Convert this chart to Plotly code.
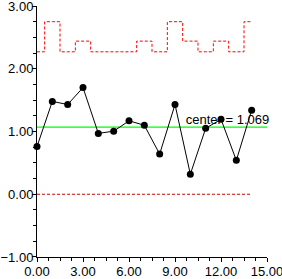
import plotly.graph_objects as go

x_vals = list(range(15))
values = [0.76, 1.48, 1.43, 1.70, 0.97, 1.005, 1.17, 1.10, 0.64, 1.43, 0.32, 1.05, 1.195, 0.54, 1.34]
ucl = [2.27, 2.75, 2.27, 2.44, 2.27, 2.27, 2.27, 2.44, 2.27, 2.75, 2.44, 2.27, 2.44, 2.27, 2.75]
lcl = [0.0] * 15
center = 1.069
center_x = [0, 15]
center_label = "center = 1.069"
label_x = 9.7

font_family = "Liberation Sans, Arial, sans-serif"

fig = go.Figure()
fig.add_trace(go.Scatter(x=center_x, y=[center, center], mode="lines",
                         line=dict(color="#00ff00", width=1.2), hoverinfo="skip"))
fig.add_trace(go.Scatter(x=[label_x], y=[center], mode="text", text=[center_label],
                         textposition="top right", cliponaxis=False,
                         textfont=dict(family=font_family, size=13, color="black")))
fig.add_trace(go.Scatter(x=x_vals, y=ucl, mode="lines", line_shape="hvh",
                         line=dict(color="red", width=1, dash="3px,2px")))
fig.add_trace(go.Scatter(x=x_vals, y=lcl, mode="lines", line_shape="hvh",
                         line=dict(color="#cc0000", width=1, dash="3px,2px")))
fig.add_trace(go.Scatter(x=x_vals, y=values, mode="lines+markers", cliponaxis=False,
                         line=dict(color="black", width=1),
                         marker=dict(color="black", size=7)))

axis_common = dict(showgrid=False, zeroline=False, showline=True, linecolor="black",
                   linewidth=1, ticks="outside", ticklen=4, tickcolor="black",
                   automargin=False, tickformat=".2f", ticklabeloverflow="allow",
                   tickfont=dict(family=font_family, size=13, color="black"))

fig.update_xaxes(range=[0, 15.0001], tickmode="array", tickvals=[0, 3, 6, 9, 12, 15],
                 ticklabelstandoff=-2,
                 minor=dict(ticks="outside", dtick=0.75, tick0=0, ticklen=3, tickcolor="black"),
                 **axis_common)
fig.update_yaxes(range=[-1.0001, 3.0001], tickmode="array", tickvals=[-1, 0, 1, 2, 3],
                 ticklabelstandoff=-4,
                 minor=dict(ticks="outside", dtick=0.25, tick0=0, ticklen=3, tickcolor="black"),
                 **axis_common)

fig.update_layout(width=282, height=279, margin=dict(l=37, r=15, t=6, b=22),
                  paper_bgcolor="white", plot_bgcolor="white", showlegend=False)

fig.write_html("out.html")
